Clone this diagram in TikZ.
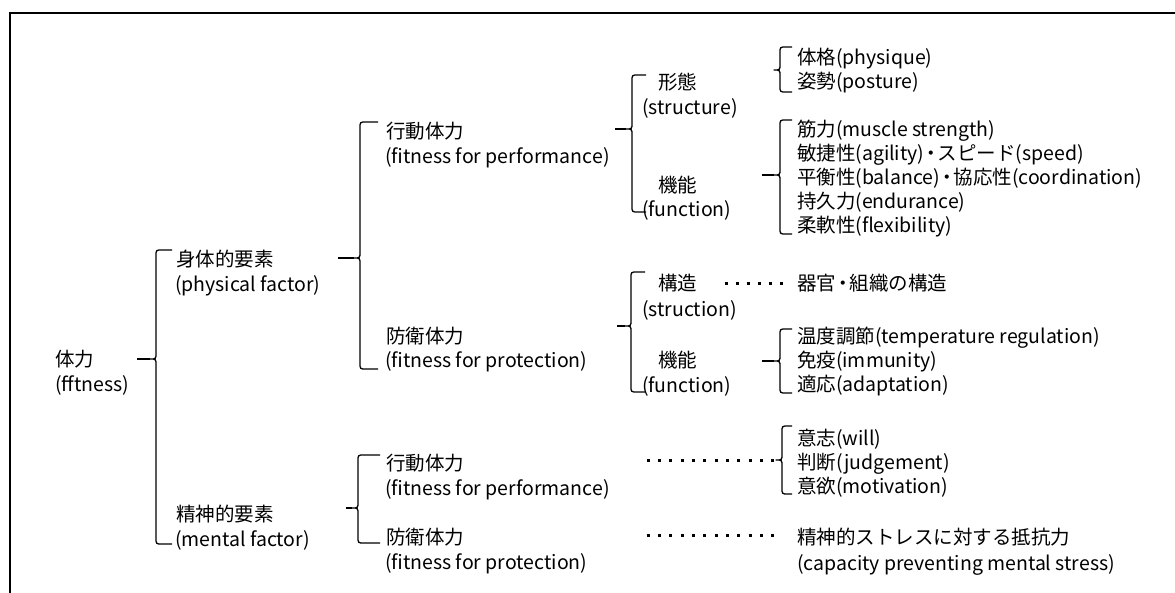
\documentclass[tikz,border=0pt]{standalone}
\usepackage{fontspec}
\newfontfamily\jp{Noto Sans CJK JP}
\newcommand{\nakaguro}{\kern-3pt ・\kern-3pt}
\tikzset{
  lbl/.style={anchor=base west, inner sep=0pt, outer sep=0pt, font=\jp\fontsize{19.5}{24}\selectfont},
  brk/.style={line width=1.3pt, line join=round},
  leader/.style={line width=3pt},
  frame/.style={line width=2pt}
}
% x, top, mid, bottom, tick end x, stub start x
\newcommand{\bracketpath}[6]{%
  \draw[brk] (#5,#2) -- ({#1+6},#2) .. controls (#1,#2) .. (#1,{#2+6}) -- (#1,{#3-6})
    .. controls (#1,#3) .. ({#1-6},#3) .. controls (#1,#3) .. (#1,{#3+6})
    -- (#1,{#4-6}) .. controls (#1,#4) .. ({#1+6},#4) -- (#5,#4);
  \draw[brk] (#6,#3) -- ({#1-6},#3);
}
\begin{document}
\begin{tikzpicture}[x=1pt,y=-1pt]
\useasboundingbox (0,0) rectangle (1175,592);
\draw[frame] (10,620) -- (10,13) -- (1200,13);

% level 0
\node[lbl] (t0)  at (55,366) {体力};
\node[lbl] (t0e) at (55,391) {(fftness)};
% level 1
\node[lbl] (p1)  at (176,266) {身体的要素};
\node[lbl] (p1e) at (175,291) {(physical factor)};
\node[lbl] (m1)  at (176,521) {精神的要素};
\node[lbl] (m1e) at (175,546) {(mental factor)};
% level 2
\node[lbl] (pp)  at (386,138) {行動体力};
\node[lbl] (ppe) at (385,163) {(fitness for performance)};
\node[lbl] (pf)  at (386,343) {防衛体力};
\node[lbl] (pfe) at (385,367) {(fitness for protection)};
\node[lbl] (mp)  at (386,470) {行動体力};
\node[lbl] (mpe) at (385,495) {(fitness for performance)};
\node[lbl] (mf)  at (386,544) {防衛体力};
\node[lbl] (mfe) at (385,569) {(fitness for protection)};
% level 3
\node[lbl] (s1)  at (658,89)  {形態};
\node[lbl] (s1e) at (642,114) {(structure)};
\node[lbl] (f1)  at (658,192) {機能};
\node[lbl] (f1e) at (642,216) {(function)};
\node[lbl] (s2)  at (658,290) {構造};
\node[lbl] (s2e) at (642,316) {(struction)};
\node[lbl] (f2)  at (658,367) {機能};
\node[lbl] (f2e) at (642,392) {(function)};
% level 4
\node[lbl] (i1) at (797,64)  {体格(physique)};
\node[lbl] (i2) at (797,88)  {姿勢(posture)};
\node[lbl] (i3) at (797,136) {筋力(muscle strength)};
\node[lbl] (i4) at (797,160) {敏捷性(agility)\nakaguro スピード(speed)};
\node[lbl] (i5) at (797,184) {平衡性(balance)\nakaguro 協応性(coordination)};
\node[lbl] (i6) at (797,208) {持久力(endurance)};
\node[lbl] (i7) at (797,232) {柔軟性(flexibility)};
\node[lbl] (i8) at (797,290) {器官\nakaguro 組織の構造};
\node[lbl] (i9) at (797,343) {温度調節(temperature regulation)};
\node[lbl] (i10) at (797,367) {免疫(immunity)};
\node[lbl] (i11) at (797,391) {適応(adaptation)};
\node[lbl] (i12) at (797,445) {意志(will)};
\node[lbl] (i13) at (797,469) {判断(judgement)};
\node[lbl] (i14) at (797,493) {意欲(motivation)};
\node[lbl] (i15) at (797,544) {精神的ストレスに対する抵抗力};
\node[lbl] (i16) at (797,570) {(capacity preventing mental stress)};

% brackets
\bracketpath{156}{250}{359}{544}{172}{137}
\bracketpath{360}{122}{258}{369}{378}{338}
\bracketpath{358}{455}{508}{543}{380}{346}
\bracketpath{632}{75}{129}{212}{646}{615}
\bracketpath{631}{272}{326}{392}{645}{617}
\bracketpath{780}{47}{70}{92}{792}{774}
\bracketpath{780}{120}{175}{234}{792}{762}
\bracketpath{780}{329}{361}{393}{792}{762}
\bracketpath{782}{426}{460}{494}{792}{776}

% dotted leaders
\coordinate (d1a) at (724.5,283); \coordinate (d1b) at (783,283);
\coordinate (d2a) at (646.5,460); \coordinate (d2b) at (774.5,460);
\coordinate (d3a) at (646.5,535); \coordinate (d3b) at (774.5,535);
\draw[leader, dash pattern=on 3pt off 8.1pt] (d1a) -- (d1b);
\draw[leader, dash pattern=on 3pt off 8.36pt] (d2a) -- (d2b);
\draw[leader, dash pattern=on 3pt off 8.36pt] (d3a) -- (d3b);
\end{tikzpicture}
\end{document}
